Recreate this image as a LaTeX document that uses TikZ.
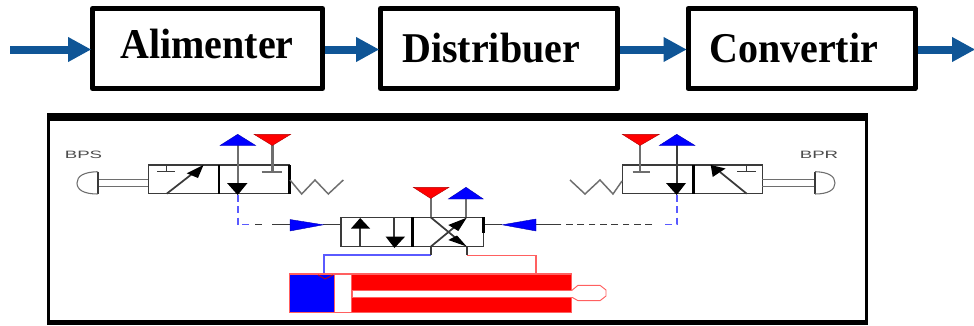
\documentclass[tikz,border=0pt]{standalone}
\usepackage{fontspec}
\setmainfont{Liberation Serif}
\newfontfamily\labfont{Liberation Sans}
\usetikzlibrary{arrows.meta}
\definecolor{flowblue}{HTML}{0F5596}
\definecolor{ctlblue}{HTML}{5A5AFF}
\definecolor{pink}{HTML}{FF6060}
\definecolor{stemgray}{HTML}{6E6E6E}
\definecolor{bodygray}{HTML}{3A3A3A}
\tikzset{
  funcbox/.style={draw=black,line width=3.75pt,line join=round,fill=white,minimum height=60pt,inner sep=0pt},
  functext/.style={font=\fontsize{30pt}{30pt}\selectfont\bfseries,anchor=base west,inner sep=0pt,transform shape,yscale=1.06},
  flow/.style={draw=flowblue,line width=6pt,-{Triangle[length=17.5pt,width=17.5pt]},shorten >=-1pt},
  body/.style={draw=bodygray,line width=1.05pt,fill=white},
  thin line/.style={draw=bodygray,line width=0.8pt},
  rodline/.style={draw=stemgray,line width=0.9pt},
  stem/.style={draw=stemgray,line width=1.8pt},
  darkstem/.style={draw=bodygray,line width=1.3pt},
  divider/.style={draw=black,line width=2.2pt},
  spring/.style={draw=stemgray,line width=1.1pt,line join=miter},
  tag/.style={font=\labfont\fontsize{8pt}{8pt}\selectfont,text=black!70,inner sep=0pt,transform shape,xscale=1.75},
  ctl/.style={draw=ctlblue,line width=1.2pt,dash pattern=on 5pt off 3.5pt},
  ctldark/.style={draw=bodygray,line width=0.8pt},
  pipeblue/.style={draw=ctlblue,line width=1.3pt},
  pipered/.style={draw=pink,line width=1.2pt},
  head/.style={fill=black},
  bluetri/.style={fill=blue,draw=blue!70!black,line width=0.3pt},
  redtri/.style={fill=red,draw=red!70!black,line width=0.3pt},
}
\begin{document}
\begin{tikzpicture}[x=0.75pt,y=-0.75pt]
\useasboundingbox (0,0) rectangle (974,325);
\fill[white] (0,0) rectangle (974,325);
% function chain
\node[funcbox,minimum width=172.5pt] (ali) at (207.5,48.5) {};
\node[funcbox,minimum width=177.75pt] (dis) at (499,48.5) {};
\node[funcbox,minimum width=170.25pt] (con) at (801.5,48.5) {};
\node[functext] (talim) at (120,58) {Alimenter};
\node[functext] (tdist) at (402,62) {Distribuer};
\node[functext] (tconv) at (709,62) {Convertir};
\coordinate (in) at (10,49.5);
\coordinate (out) at (974,49.5);
\draw[flow] (in) -- ([yshift=-0.75pt]ali.west);
\draw[flow] ([yshift=-0.75pt]ali.east) -- ([yshift=-0.75pt]dis.west);
\draw[flow] ([yshift=-0.75pt]dis.east) -- ([yshift=-0.75pt]con.west);
\draw[flow] ([yshift=-0.75pt]con.east) -- (out);
% frame
\fill[black] (47,113) rectangle (868,325);
\fill[white] (50,121) rectangle (865,320);
% ---- left push-button valve
\node[tag] (bps) at (83.5,155) {BPS};
\draw[body] (148.3,165) rectangle (289.3,193.7);
\draw[divider] (219,165) -- (219,193.7);
\draw[divider] (289.3,165) -- (289.3,193.7);
\draw[rodline] (98,179.7) -- (148.3,179.7) (98,186.3) -- (148.3,186.3);
\draw[darkstem] (97.7,171.7) -- (97.7,194);
\draw[thin line,draw=stemgray] (97.7,171.7) .. controls (84,172) and (77,176) .. (77,183) .. controls (77,190) and (84,194) .. (97.7,194);
\draw[thin line] (166.7,165) -- (166.7,171.7) (157,171.7) -- (175,171.7);
\draw[darkstem] (166.7,193.7) -- (192,174);
\fill[head] (203.5,165) -- (186.7,173.3) -- (198,178) -- cycle;
\draw[stem] (237.7,145) -- (237.7,186);
\fill[head] (227,183) -- (247.5,183) -- (237.7,195) -- cycle;
\draw[bluetri] (220,145.5) -- (255.7,145.5) -- (237.7,134.3) -- cycle;
\draw[stem] (272.3,145) -- (272.3,171.7);
\draw[stem] (261.7,171.7) -- (281.7,171.7);
\draw[redtri] (254,134.3) -- (290.7,134.3) -- (272.3,145.5) -- cycle;
\draw[spring] (290,180) -- (301.7,194) -- (315,180) -- (328.3,194) -- (343.3,180);
\draw[ctl] (237.7,195) -- (237.7,224.3) -- (251,224.3);
\draw[ctldark] (255,224.3) -- (262,224.3) (272,224.3) -- (290,224.3) (323,224.3) -- (341,224.3);
\fill[bluetri] (290,219.5) -- (323.3,224.8) -- (290,231) -- cycle;
% ---- right push-button valve
\node[tag] (bpr) at (819,155) {BPR};
\draw[body] (622.3,165) rectangle (762.3,193.7);
\draw[divider] (693.3,165) -- (693.3,193.7);
\draw[rodline] (762.3,179.7) -- (815,179.7) (762.3,186.3) -- (815,186.3);
\draw[darkstem] (815,171.7) -- (815,194);
\draw[thin line,draw=stemgray] (815,171.7) .. controls (828,172) and (835,176) .. (835,183) .. controls (835,190) and (828,194) .. (815,194);
\draw[thin line] (746.7,165) -- (746.7,171.7) (737,171.7) -- (755.7,171.7);
\draw[darkstem] (746.7,193.7) -- (720,172);
\fill[head] (710.7,165) -- (712.7,177) -- (725.5,168.5) -- cycle;
\draw[darkstem] (676.7,145) -- (676.7,186);
\fill[head] (666,183) -- (686,183) -- (676.7,195) -- cycle;
\draw[bluetri] (659.3,145.5) -- (695,145.5) -- (676.7,134.3) -- cycle;
\draw[stem] (640,145) -- (640,171.7);
\draw[stem] (632.7,171.7) -- (650,171.7);
\draw[redtri] (622.3,134.3) -- (659.3,134.3) -- (640,145.5) -- cycle;
\draw[spring] (622,181) -- (613,194) -- (600,180) -- (585,194) -- (570,180);
\draw[ctl] (676.7,195) -- (676.7,224.3) -- (662,224.3);
\draw[ctl,draw=bodygray,line width=0.8pt] (652,224.3) -- (552,224.3);
\draw[ctldark] (536,224.3) -- (555,224.3) (483,224.3) -- (502,224.3);
\fill[bluetri] (536,219) -- (502.3,224.8) -- (536,231) -- cycle;
% ---- central distributor
\draw[pipeblue] (430.7,255.3) -- (324,255.3) -- (324,274.3);
\draw[pipered] (466.7,255.3) -- (535.7,255.3) -- (535.7,274.3);
\draw[darkstem] (430.7,246.7) -- (430.7,255.3) (466.7,246.7) -- (466.7,255.3);
\draw[body] (341,217.3) rectangle (483.3,246.7);
\draw[divider] (412.7,217.3) -- (412.7,246.7);
\draw[divider] (483.3,217.3) -- (483.3,233);
\draw[darkstem] (360,246.7) -- (360,226);
\fill[head] (351,228.5) -- (370,228.5) -- (360.2,218) -- cycle;
\draw[darkstem] (394.3,217.3) -- (394.3,239);
\fill[head] (385.7,236.7) -- (405,236.7) -- (394.5,248) -- cycle;
\draw[darkstem] (430.7,217.3) -- (460,241.5);
\draw[darkstem] (430.7,246.7) -- (460,222.5);
\fill[head] (466.7,217.7) -- (448.3,225) -- (458.3,231) -- cycle;
\fill[head] (466.7,246.5) -- (448.3,240) -- (457,235.5) -- cycle;
\draw[stem] (430.7,198) -- (430.7,217.3);
\draw[redtri] (413.3,187.3) -- (449,187.3) -- (430.7,198.5) -- cycle;
\draw[stem] (466,199) -- (466,217.3);
\draw[bluetri] (448.3,199) -- (483.3,199) -- (466,187.3) -- cycle;
% ---- cylinder
\fill[red] (351,274) rectangle (571.5,312.3);
\fill[white] (334,274.5) rectangle (351,312);
\fill[blue] (289.3,274) rectangle (334,312.3);
\draw[draw=pink,line width=0.9pt] (289.3,274) rectangle (571.5,312.3);
\draw[draw=pink,line width=0.6pt] (334,274) -- (334,312.3) (351,274) -- (351,312.3);
\draw[draw=red!80!black,line width=0.6pt] (318,275) -- (325,279) -- (333,275);
\fill[white] (352,290.7) rectangle (571.5,297);
\draw[draw=pink,line width=0.7pt,fill=white] (571.5,290.7) -- (578,285.3) -- (600,285.3) -- (606,290) -- (606,296) -- (600,300.7) -- (578,300.7) -- (571.5,297);
\fill[white] (565,291) rectangle (590,296.7);
\draw[draw=pink,line width=0.7pt] (352,290.7) -- (352,297);
\draw[draw=pink,line width=0.5pt] (352,290.7) -- (571,290.7) (352,297) -- (571,297);
\end{tikzpicture}
\end{document}
